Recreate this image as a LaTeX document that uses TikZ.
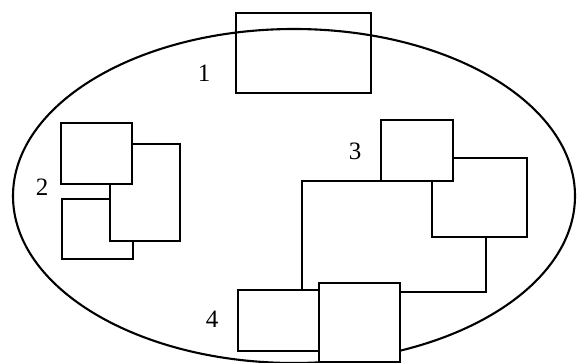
\documentclass[tikz,border=0pt]{standalone}
\usepackage{fontspec}
\setmainfont{Liberation Serif}
\newcommand{\lblfont}{\fontsize{25pt}{27pt}\selectfont}
\begin{document}
\begin{tikzpicture}[x=1pt,y=-1pt,
  outline/.style={draw=black,line width=2.1pt},
  box/.style={outline,fill=white},
  lbl/.style={inner sep=0pt,font=\lblfont}]
\useasboundingbox (0,0) rectangle (577,363);
% enclosing ellipse
\draw[outline] (294,196) ellipse [x radius=281, y radius=167];
% group 1
\draw[outline] (236,13) rectangle (371,93);
% group 2
\draw[box] (62,199) rectangle (133,259);
\draw[box] (110,144) rectangle (180,241);
\draw[box] (61,123) rectangle (132,184);
% group 3
\draw[box] (302,181) rectangle (486,292);
\draw[box] (432,158) rectangle (527,237);
\draw[box] (381,120) rectangle (453,181);
% group 4
\draw[box] (238,290) rectangle (319,351);
\draw[box] (319,283) rectangle (400,362);
% labels
\node[lbl] (l1) at (204,73) {1};
\node[lbl] (l2) at (42,187) {2};
\node[lbl] (l3) at (355,151) {3};
\node[lbl] (l4) at (212,319) {4};
\end{tikzpicture}
\end{document}
